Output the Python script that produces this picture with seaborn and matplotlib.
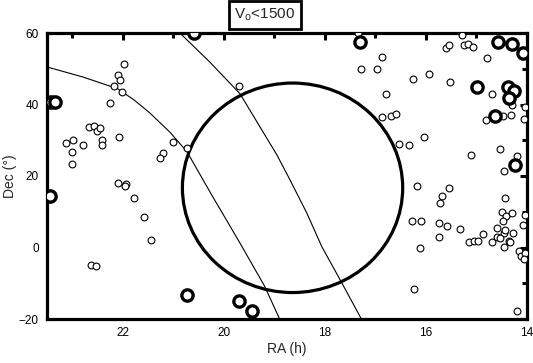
import numpy as np
import pandas as pd
import matplotlib
matplotlib.use("Agg")
import matplotlib.pyplot as plt
from matplotlib.patches import Ellipse
import seaborn as sns

# ---- data (RA in hours, Dec in degrees) ----
small_ra = [21.98, 22.10, 22.06, 22.18, 22.02, 22.26, 22.67, 22.57, 22.51, 22.46,
            22.42, 22.42, 22.08, 23.13, 22.99, 22.79, 23.01, 23.01, 21.01, 20.73,
            21.21, 21.27, 22.10, 21.94, 21.96, 21.78, 21.58, 21.45, 22.63, 22.53,
            19.70, 17.35, 16.87, 17.29, 16.97, 16.26, 15.94, 16.79, 16.87, 16.69,
            16.59, 16.53, 16.34, 16.04, 14.79, 15.52, 14.69, 14.30, 14.48, 14.32,
            14.81, 14.04, 14.06, 15.60, 15.54, 15.25, 15.17, 15.07, 15.29, 14.53,
            15.11, 14.20, 14.46, 16.18, 15.54, 15.68, 15.72, 14.44, 14.50, 14.42,
            14.30, 14.48, 16.28, 16.10, 15.74, 15.58, 15.33, 15.74, 15.15, 15.05,
            14.97, 14.87, 14.69, 14.59, 14.46, 14.28, 14.36, 14.46, 14.53, 14.04,
            14.08, 14.16, 14.12, 14.04, 14.06, 16.12, 16.24, 14.20, 14.59, 14.44,
            14.34]
small_dec = [51.3, 48.3, 46.9, 45.2, 43.5, 40.4, 33.7, 34.0, 32.6, 33.5,
             30.1, 28.7, 31.0, 29.3, 30.1, 28.7, 26.8, 23.4, 29.6, 27.9,
             26.5, 25.1, 18.1, 17.8, 17.3, 13.9, 8.6, 2.2, -4.8, -5.1,
             45.2, 60.0, 53.3, 49.9, 49.9, 47.2, 48.5, 43.0, 36.5, 36.8,
             37.4, 29.0, 28.7, 31.0, 53.0, 46.3, 43.0, 39.9, 36.8, 37.1,
             35.7, 39.3, 36.0, 55.8, 56.6, 56.6, 56.9, 56.1, 59.4, 27.6,
             25.9, 25.6, 21.5, 17.3, 16.7, 14.5, 12.5, 13.9, 10.0, 8.9,
             9.7, 7.5, 7.5, 7.5, 6.9, 6.1, 5.3, 3.0, 1.6, 1.9,
             1.9, 3.9, 1.6, 3.0, 4.1, 4.1, 1.9, 0.2, 2.7, 9.2,
             6.4, -0.9, -2.3, -1.5, -3.1, 0.0, -11.5, -17.9, 5.5, 5.0,
             1.6]

big_ra = [23.43, 23.35, 23.45, 20.59, 20.73, 19.70, 19.45, 17.31, 14.57, 14.30,
          14.08, 14.99, 14.38, 14.26, 14.36, 14.63, 14.24]
big_dec = [40.7, 40.7, 14.5, 60.0, -13.2, -15.1, -17.9, 57.5, 57.5, 56.9,
           54.4, 44.9, 44.9, 43.8, 41.8, 36.8, 23.1]

# two thin curves
curve1_ra = [23.50, 22.79, 22.10, 21.78, 21.47, 21.07, 20.73, 20.22, 19.72, 19.19, 18.89]
curve1_dec = [50.5, 47.7, 44.4, 41.3, 37.7, 32.3, 26.8, 14.2, 2.2, -10.9, -20.2]
curve2_ra = [20.87, 20.28, 19.68, 19.33, 18.95, 18.69, 18.36, 18.06, 17.70, 17.27]
curve2_dec = [60.0, 51.9, 43.0, 34.8, 25.9, 18.9, 9.7, 0.2, -9.0, -20.2]

# big circle region
circle_center = (18.64, 16.7)
circle_size = (4.36, 58.6)

title_text = "V$_\\mathrm{o}$<1500"
x_ticks = [22, 20, 18, 16, 14]
y_ticks = [-20, 0, 20, 40, 60]

# ---- plotting ----
sns.set_style("white")
plt.rcParams['font.family'] = ['Liberation Sans', 'DejaVu Sans']
plt.rcParams['mathtext.fontset'] = 'custom'
plt.rcParams['mathtext.rm'] = 'Liberation Sans'

fig = plt.figure(figsize=(5.33, 3.63), dpi=100)
ax = fig.add_axes([47/533, 1-319/363, 480/533, 286/363])

df_small = pd.DataFrame({"ra": small_ra, "dec": small_dec})
df_big = pd.DataFrame({"ra": big_ra, "dec": big_dec})
c1 = pd.DataFrame({"ra": curve1_ra, "dec": curve1_dec})
c2 = pd.DataFrame({"ra": curve2_ra, "dec": curve2_dec})

sns.lineplot(data=c1, x="ra", y="dec", sort=False, estimator=None, color="black",
             lw=0.8, ax=ax)
sns.lineplot(data=c2, x="ra", y="dec", sort=False, estimator=None, color="black",
             lw=0.8, ax=ax)

ell = Ellipse(circle_center, circle_size[0], circle_size[1], fill=False,
              edgecolor="black", lw=2.3, zorder=3)
ax.add_patch(ell)

sns.scatterplot(data=df_small, x="ra", y="dec", ax=ax, s=24, facecolor="white",
                edgecolor="black", linewidth=0.8, zorder=4)
sns.scatterplot(data=df_big, x="ra", y="dec", ax=ax, s=66, facecolor="white",
                edgecolor="black", linewidth=2.4, zorder=5)

ax.set_xlim(23.5, 14)
ax.set_ylim(-20, 60)
ax.set_xticks(x_ticks)
ax.set_yticks(y_ticks)
ax.set_xticks(np.arange(15, 24, 2), minor=True)
ax.set_yticks(np.arange(-10, 60, 20), minor=True)
ax.tick_params(which="both", direction="in", top=True, right=True, width=2.2,
               labelsize=8.5, colors="black")
ax.tick_params(which="major", length=5, pad=6)
ax.tick_params(which="minor", length=3.5)
for sp in ax.spines.values():
    sp.set_linewidth(2.3)
    sp.set_color("black")

ax.set_xlabel("RA (h)", fontsize=10, labelpad=2)
ax.set_ylabel("Dec (°)", fontsize=10, labelpad=1)

fig.text(0.497, 1-15/363, title_text, ha="center", va="center", fontsize=11,
         bbox=dict(boxstyle="square,pad=0.35", facecolor="white",
                   edgecolor="black", linewidth=2))

fig.savefig("out.png", dpi=100)
